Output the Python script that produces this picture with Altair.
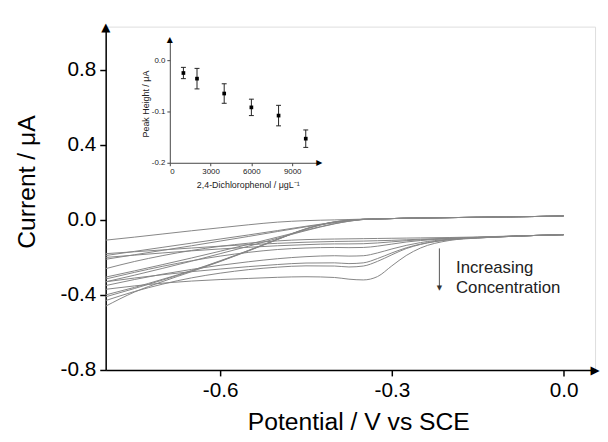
import altair as alt
import pandas as pd

# ---------------- data ----------------
potential = [-0.8, -0.75, -0.7, -0.65, -0.6, -0.55, -0.5, -0.45, -0.4, -0.375,
             -0.35, -0.325, -0.3, -0.275, -0.25, -0.2, -0.15, -0.1, -0.05, 0.0]

# branches that end near +0.02 uA
up0 = [-0.108, -0.092, -0.075, -0.058, -0.042, -0.026, -0.012, -0.004, 0.000, 0.002,
       0.004, 0.005, 0.007, 0.009, 0.010, 0.012, 0.014, 0.016, 0.018, 0.021]
up1 = [-0.190, -0.168, -0.146, -0.124, -0.102, -0.080, -0.057, -0.034, -0.013, -0.004,
       0.003, 0.005, 0.007, 0.009, 0.010, 0.012, 0.014, 0.016, 0.018, 0.021]
up2 = [-0.210, -0.186, -0.162, -0.138, -0.113, -0.088, -0.062, -0.037, -0.015, -0.005,
       0.003, 0.005, 0.007, 0.009, 0.010, 0.012, 0.014, 0.016, 0.018, 0.021]
up3 = [-0.305, -0.272, -0.238, -0.203, -0.167, -0.130, -0.092, -0.054, -0.020, -0.007,
       0.002, 0.005, 0.007, 0.009, 0.010, 0.012, 0.014, 0.016, 0.018, 0.021]
up4 = [-0.330, -0.295, -0.258, -0.220, -0.180, -0.140, -0.098, -0.057, -0.021, -0.007,
       0.002, 0.005, 0.007, 0.009, 0.010, 0.012, 0.014, 0.016, 0.018, 0.021]
up5 = [-0.400, -0.360, -0.316, -0.270, -0.218, -0.162, -0.103, -0.047, -0.010, -0.002,
       0.003, 0.005, 0.007, 0.009, 0.010, 0.012, 0.014, 0.016, 0.018, 0.021]
up6 = [-0.410, -0.366, -0.320, -0.272, -0.220, -0.163, -0.104, -0.048, -0.011, -0.002,
       0.003, 0.005, 0.007, 0.009, 0.010, 0.012, 0.014, 0.016, 0.018, 0.021]
up7 = [-0.460, -0.385, -0.328, -0.276, -0.222, -0.165, -0.105, -0.049, -0.011, -0.002,
       0.003, 0.005, 0.007, 0.009, 0.010, 0.012, 0.014, 0.016, 0.018, 0.021]

# branches that end near -0.08 uA (reduction peak near -0.36 V)
lo0 = [-0.260, -0.222, -0.190, -0.163, -0.141, -0.124, -0.112, -0.105, -0.102, -0.101,
       -0.100, -0.099, -0.098, -0.097, -0.096, -0.094, -0.091, -0.087, -0.083, -0.079]
lo1 = [-0.180, -0.170, -0.160, -0.150, -0.140, -0.132, -0.125, -0.119, -0.115, -0.114,
       -0.113, -0.111, -0.109, -0.106, -0.103, -0.098, -0.093, -0.088, -0.083, -0.079]
lo2 = [-0.200, -0.188, -0.176, -0.165, -0.155, -0.146, -0.138, -0.132, -0.128, -0.128,
       -0.127, -0.123, -0.117, -0.111, -0.106, -0.099, -0.093, -0.088, -0.083, -0.079]
lo3 = [-0.315, -0.280, -0.247, -0.218, -0.193, -0.173, -0.158, -0.150, -0.147, -0.148,
       -0.147, -0.140, -0.129, -0.118, -0.110, -0.100, -0.094, -0.088, -0.083, -0.079]
lo4 = [-0.350, -0.318, -0.289, -0.264, -0.242, -0.223, -0.207, -0.196, -0.191, -0.193,
       -0.191, -0.176, -0.155, -0.136, -0.121, -0.103, -0.095, -0.089, -0.083, -0.079]
lo5 = [-0.330, -0.310, -0.292, -0.276, -0.262, -0.249, -0.238, -0.230, -0.229, -0.233,
       -0.229, -0.206, -0.176, -0.149, -0.129, -0.105, -0.096, -0.089, -0.083, -0.079]
lo6 = [-0.430, -0.382, -0.342, -0.309, -0.284, -0.265, -0.252, -0.245, -0.246, -0.251,
       -0.246, -0.221, -0.186, -0.153, -0.131, -0.106, -0.096, -0.089, -0.083, -0.079]
lo7 = [-0.370, -0.352, -0.337, -0.326, -0.318, -0.312, -0.306, -0.303, -0.307, -0.316,
       -0.320, -0.302, -0.245, -0.190, -0.150, -0.110, -0.097, -0.089, -0.083, -0.079]

curves = {"u0": up0, "u1": up1, "u2": up2, "u3": up3, "u4": up4, "u5": up5, "u6": up6, "u7": up7,
          "l0": lo0, "l1": lo1, "l2": lo2, "l3": lo3, "l4": lo4, "l5": lo5, "l6": lo6, "l7": lo7}

# inset: peak height vs concentration
conc = [1000, 2000, 4000, 6000, 8000, 10000]
peak = [-0.025, -0.036, -0.065, -0.092, -0.108, -0.153]
err = [0.011, 0.020, 0.019, 0.016, 0.020, 0.017]

annot_lines = ["Increasing", "Concentration"]

# ---------------- layout constants ----------------
W, H = 496, 348
X_DOM = [-0.8, 0.055]
Y_DOM = [-0.8, 1.03]
IX_DOM = [0, 11000]
IY_DOM = [-0.2, 0.04]
IX_RANGE = [65, 65 + 11000 * 0.013778]
IY_RANGE = [138, 138 - 0.24 * 520]
FONT = "Liberation Sans"
MINUS_FIX = "replace(datum.label, '\u2212', '-')"

rows = []
for name, vals in curves.items():
    for v, i in zip(potential, vals):
        rows.append({"curve": name, "V": v, "I": i})
df = pd.DataFrame(rows)

xs = alt.Scale(domain=X_DOM, nice=False, zero=False)
ys = alt.Scale(domain=Y_DOM, nice=False, zero=False)

x_axis = alt.Axis(values=[-0.6, -0.3, 0.0], format=".1f", labelExpr=MINUS_FIX,
                  labelFontSize=21, labelFont=FONT,
                  labelColor="black", tickSize=6, tickWidth=1.5, tickColor="black",
                  domainColor="black", domainWidth=1.5, labelPadding=4, grid=False,
                  title="Potential / V vs SCE", titleFont=FONT, titleFontSize=25,
                  titleFontWeight="normal", titleColor="black", titleX=256, titleY=52,
                  titleBaseline="middle", orient="bottom")
y_axis = alt.Axis(values=[-0.8, -0.4, 0.0, 0.4, 0.8], format=".1f", labelExpr=MINUS_FIX,
                  labelFontSize=21,
                  labelFont=FONT, labelColor="black", tickSize=6, tickWidth=1.5,
                  tickColor="black", domainColor="black", domainWidth=1.5, labelPadding=4,
                  grid=False, title="Current / μA", titleFont=FONT, titleFontSize=25,
                  titleFontWeight="normal", titleColor="black", titleX=-80, titleY=157,
                  titleBaseline="middle", orient="left")

lines = alt.Chart(df).mark_line(color="#858585", strokeWidth=1, interpolate="monotone").encode(
    x=alt.X("V:Q", scale=xs, axis=x_axis),
    y=alt.Y("I:Q", scale=ys, axis=y_axis),
    detail="curve:N",
)

# axis-end arrowheads (main)
arr_up = alt.Chart(pd.DataFrame({"V": [X_DOM[0]], "I": [Y_DOM[1]]})).mark_text(
    text="▲", font="DejaVu Sans", fontSize=12, color="black", baseline="middle").encode(
    x=alt.X("V:Q", scale=xs, axis=x_axis), y=alt.Y("I:Q", scale=ys, axis=y_axis))
arr_right = alt.Chart(pd.DataFrame({"V": [X_DOM[1]], "I": [Y_DOM[0]]})).mark_text(
    text="▶", font="DejaVu Sans", fontSize=12, color="black", baseline="middle").encode(
    x=alt.X("V:Q", scale=xs, axis=x_axis), y=alt.Y("I:Q", scale=ys, axis=y_axis))

# annotation arrow + text
ARROW_V = -0.217
arrow_df = pd.DataFrame({"V": [ARROW_V], "I": [-0.152], "I2": [-0.362]})
arrow_rule = alt.Chart(arrow_df).mark_rule(color="#555", strokeWidth=1).encode(
    x=alt.X("V:Q", scale=xs, axis=x_axis), y=alt.Y("I:Q", scale=ys, axis=y_axis), y2="I2:Q")
arrow_head = alt.Chart(arrow_df).mark_text(text="▼", font="DejaVu Sans", fontSize=7,
                                           color="#333", baseline="middle").encode(
    x=alt.X("V:Q", scale=xs, axis=x_axis), y=alt.Y("I2:Q", scale=ys, axis=y_axis))
text_df = pd.DataFrame({"V": [-0.188, -0.188], "I": [-0.258, -0.363], "t": annot_lines})
annot = alt.Chart(text_df).mark_text(align="left", baseline="middle", font=FONT, fontSize=17,
                                     color="#222").encode(
    x=alt.X("V:Q", scale=xs, axis=x_axis), y=alt.Y("I:Q", scale=ys, axis=y_axis), text="t:N")

main = alt.layer(lines, arrow_rule, arrow_head, annot, arr_up, arr_right)

# ---------------- inset ----------------
ins_df = pd.DataFrame({"conc": conc, "peak": peak,
                       "lo": [p - e for p, e in zip(peak, err)],
                       "hi": [p + e for p, e in zip(peak, err)]})
ixs = alt.Scale(domain=IX_DOM, range=IX_RANGE, nice=False, zero=False)
iys = alt.Scale(domain=IY_DOM, range=IY_RANGE, nice=False, zero=False)
ix_axis = alt.Axis(orient="bottom", offset=-(H - IY_RANGE[0]), values=[0, 3000, 6000, 9000],
                   format="d", labelFontSize=8, labelFont=FONT, labelColor="#222",
                   tickSize=3, tickColor="#444", domainColor="#444", domainWidth=1,
                   labelPadding=2, grid=False, title="2,4-Dichlorophenol / μgL⁻¹",
                   titleFont=FONT, titleFontSize=9, titleFontWeight="normal",
                   titleColor="#222", titleX=144, titleY=22, titleBaseline="middle")
iy_axis = alt.Axis(orient="left", offset=-IX_RANGE[0], values=[-0.2, -0.1, 0.0],
                   format=".1f", labelExpr=MINUS_FIX, labelFontSize=8, labelFont=FONT,
                   labelColor="#222",
                   tickSize=3, tickColor="#444", domainColor="#444", domainWidth=1,
                   labelPadding=2, grid=False, title="Peak Height / μA", titleFont=FONT,
                   titleFontSize=9, titleFontWeight="normal", titleColor="#222",
                   titleX=-25, titleY=78, titleBaseline="middle")

ibase = alt.Chart(ins_df)
ix = alt.X("conc:Q", scale=ixs, axis=ix_axis)
bars = ibase.mark_rule(color="#222", strokeWidth=1).encode(
    x=ix, y=alt.Y("lo:Q", scale=iys, axis=iy_axis), y2="hi:Q")
cap_lo = ibase.mark_tick(orient="horizontal", size=5, thickness=1, color="#222", opacity=1).encode(
    x=ix, y=alt.Y("lo:Q", scale=iys, axis=iy_axis))
cap_hi = ibase.mark_tick(orient="horizontal", size=5, thickness=1, color="#222", opacity=1).encode(
    x=ix, y=alt.Y("hi:Q", scale=iys, axis=iy_axis))
pts = ibase.mark_square(size=14, color="black", opacity=1).encode(
    x=ix, y=alt.Y("peak:Q", scale=iys, axis=iy_axis))
iarr_up = alt.Chart(pd.DataFrame({"conc": [IX_DOM[0]], "peak": [IY_DOM[1]]})).mark_text(
    text="▲", font="DejaVu Sans", fontSize=8, color="black", baseline="middle").encode(
    x=ix, y=alt.Y("peak:Q", scale=iys, axis=iy_axis))
iarr_right = alt.Chart(pd.DataFrame({"conc": [IX_DOM[1]], "peak": [IY_DOM[0]]})).mark_text(
    text="▶", font="DejaVu Sans", fontSize=8, color="black", baseline="middle").encode(
    x=ix, y=alt.Y("peak:Q", scale=iys, axis=iy_axis))

inset = alt.layer(bars, cap_lo, cap_hi, pts, iarr_up, iarr_right)

chart = alt.layer(main, inset).resolve_scale(x="independent", y="independent").properties(
    width=W, height=H,
    autosize=alt.AutoSizeParams(type="none"),
    padding={"left": 99, "top": 16, "right": 5, "bottom": 62},
).configure_view(stroke=None).configure(background="white")

chart.save("out.html", embed_options={"renderer": "svg", "actions": False})
